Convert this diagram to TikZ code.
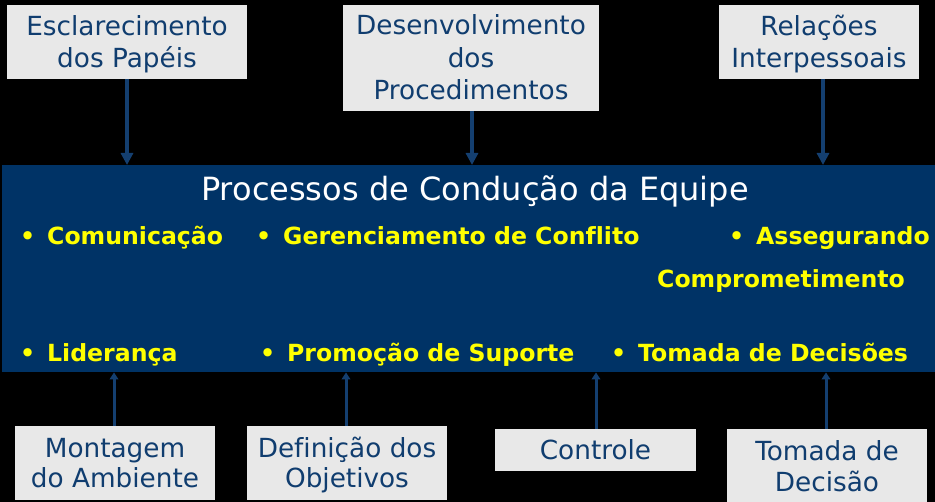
\documentclass[tikz,border=0pt]{standalone}
\usepackage{fontspec}
\setmainfont{DejaVu Sans}[Ligatures=NoCommon]
\usetikzlibrary{arrows.meta}
\definecolor{navy}{HTML}{003366}
\definecolor{boxgray}{HTML}{E8E8E8}
\definecolor{boxtext}{HTML}{103D6F}
\definecolor{arrcol}{HTML}{143F70}
\definecolor{yel}{HTML}{FFFF00}
\newcommand\bul{\llap{•\hspace{12pt}}}
\tikzset{
  sidebox/.style={fill=boxgray, inner sep=0pt},
  sidetext/.style={text=boxtext, align=center, inner sep=0pt, anchor=base,
    font=\fontsize{26.3}{#1}\selectfont},
  sidetext/.default=32,
  item/.style={anchor=base west, text=yel, inner sep=0pt,
    font=\fontsize{23.6}{28}\selectfont\bfseries},
  arrdown/.style={draw=arrcol, line width=3.5pt, -{Triangle[width=12pt,length=12pt]}},
  arrup/.style={draw=arrcol, line width=3pt, -{Triangle[width=8.5pt,length=7pt]}},
}
\begin{document}
\begin{tikzpicture}[x=1pt,y=-1pt]
\fill[black] (0,0) rectangle (935,502);
\useasboundingbox (0,0) rectangle (935,502);
% main box
\node[fill=navy, inner sep=0pt, minimum width=933pt, minimum height=207pt, anchor=north west] (main) at (2,165) {};
\node[anchor=base, text=white, inner sep=0pt, font=\fontsize{32}{36}\selectfont] (title) at (475,201) {Processos de Condução da Equipe};
\node[item] (i1) at (47,245) {\bul Comunicação};
\node[item] (i2) at (283,245) {\bul Gerenciamento de Conflito};
\node[item] (i3) at (756,245) {\bul Assegurando};
\node[item] (i3b) at (657,288) {Comprometimento};
\node[item] (i4) at (47,362) {\bul Liderança};
\node[item] (i5) at (287,362) {\bul Promoção de Suporte};
\node[item] (i6) at (638,362) {\bul Tomada de Decisões};
% top boxes
\node[sidebox, minimum width=240pt, minimum height=74pt] (b1) at (127,42) {};
\node[sidetext] (t1) at (127,68) {Esclarecimento\\dos Papéis};
\node[sidebox, minimum width=256pt, minimum height=106pt] (b2) at (471,58) {};
\node[sidetext=32.5] (t2) at (471,100) {Desenvolvimento\\dos\\Procedimentos};
\node[sidebox, minimum width=200pt, minimum height=74pt] (b3) at (819,42) {};
\node[sidetext] (t3) at (819,68) {Relações\\Interpessoais};
% bottom boxes
\node[sidebox, minimum width=200pt, minimum height=74pt] (b4) at (115,463) {};
\node[sidetext=30] (t4) at (115,488) {Montagem\\do Ambiente};
\node[sidebox, minimum width=200pt, minimum height=74pt] (b5) at (347,463) {};
\node[sidetext=30] (t5) at (347,488) {Definição dos\\Objetivos};
\node[sidebox, minimum width=201pt, minimum height=42pt] (b6) at (595.5,450) {};
\node[sidetext] (t6) at (595.5,460) {Controle};
\node[sidebox, minimum width=200pt, minimum height=74pt] (b7) at (827,466) {};
\node[sidetext] (t7) at (827,492) {Tomada de\\Decisão};
% arrows
\draw[arrdown] (b1.south) -- (b1.south |- main.north);
\draw[arrdown] (b2.south -| 472,0) -- (main.north -| 472,0);
\draw[arrdown] (b3.south -| 823,0) -- (main.north -| 823,0);
\draw[arrup] (b4.north -| 114,0) -- (main.south -| 114,0);
\draw[arrup] (b5.north -| 346,0) -- (main.south -| 346,0);
\draw[arrup] (b6.north -| 596,0) -- (main.south -| 596,0);
\draw[arrup] (b7.north -| 826,0) -- (main.south -| 826,0);
\end{tikzpicture}
\end{document}
